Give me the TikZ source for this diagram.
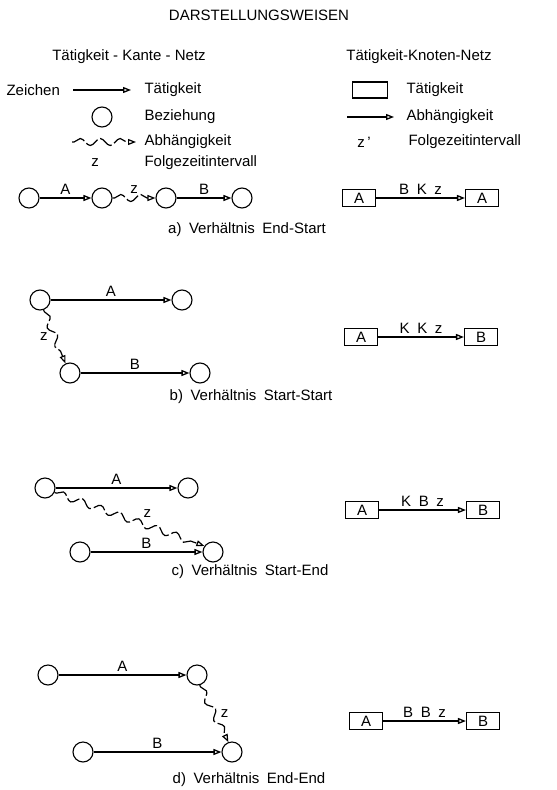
\documentclass[tikz,border=0pt]{standalone}
\usepackage{fontspec}
\setmainfont{Liberation Sans}
\usetikzlibrary{arrows.meta,positioning,decorations.pathmorphing}

\tikzset{
  ev/.style={draw,circle,line width=1.1pt,minimum size=20pt,inner sep=0pt},
  act/.style={draw,line width=1.1pt,minimum width=33pt,minimum height=17pt,inner sep=0pt},
  arr/.style={line width=1.3pt,-{Triangle[open,length=8pt,width=6pt]}},
  dep/.style={line width=1.2pt,-{Triangle[open,length=8pt,width=6pt]},dash pattern=on 14pt off 3pt,
    decorate,decoration={snake,amplitude=3.5pt,segment length=20pt,pre length=2pt,post length=7pt}}
}

\begin{document}
\begin{tikzpicture}[x=1pt,y=-1pt,font=\fontsize{15}{17}\selectfont]
  \useasboundingbox (0,0) rectangle (557,790);

  % title and column heads
  \node (title) at (259,15) {DARSTELLUNGSWEISEN};
  \node (hleft) at (129,57) {Tätigkeit - Kante - Netz};
  \node (hright) at (419,57) {Tätigkeit-Knoten-Netz};

  % legend, left column
  \node[anchor=west] (lzei) at (3,90) {Zeichen};
  \coordinate (lt1) at (73,90);
  \coordinate (lt2) at (131,90);
  \draw[arr] (lt1) -- (lt2);
  \node[anchor=west] (ltae) at (141,90) {Tätigkeit};
  \node[ev] (lev) at (102,117) {};
  \node[anchor=west] (lbez) at (141,117) {Beziehung};
  \coordinate (ld1) at (72,142);
  \coordinate (ld2) at (136,142);
  \draw[dep] (ld1) -- (ld2);
  \node[anchor=west] (labh) at (141,142) {Abhängigkeit};
  \node (lz) at (95,163) {z};
  \node[anchor=west] (lfol) at (141,163) {Folgezeitintervall};

  % legend, right column
  \node[act,minimum width=35pt,minimum height=16pt] (ract) at (370,90) {};
  \node[anchor=west] (rtae) at (403,90) {Tätigkeit};
  \coordinate (rd1) at (347,117);
  \coordinate (rd2) at (394,117);
  \draw[arr] (rd1) -- (rd2);
  \node[anchor=west] (rabh) at (403,117) {Abhängigkeit};
  \node (rz) at (364,142) {z\,'};
  \node[anchor=west] (rfol) at (405,142) {Folgezeitintervall};

  % a) End-Start
  \node[ev] (a1) at (29,198) {};
  \node[ev] (a2) at (102,198) {};
  \node[ev] (a3) at (166,198) {};
  \node[ev] (a4) at (242,198) {};
  \draw[arr] (a1) -- node[above] {A} (a2);
  \draw[dep] (a2) -- node[above=1pt] {z} (a3);
  \draw[arr] (a3) -- node[above] {B} (a4);
  \node[act] (ka1) at (359,198) {A};
  \node[act] (ka2) at (482,198) {A};
  \draw[arr] (ka1) -- node[above] {B\enskip K\enskip z} (ka2);
  \node (capa) at (247,230) {a)\enskip Verhältnis\enskip End-Start};

  % b) Start-Start
  \node[ev] (b1) at (40,300) {};
  \node[ev] (b2) at (182,300) {};
  \node[ev] (b3) at (70,373) {};
  \node[ev] (b4) at (200,373) {};
  \draw[arr] (b1) -- node[above] {A} (b2);
  \draw[arr] (b3) -- node[above] {B} (b4);
  \draw[dep] (b1.-70) -- node[left=3pt] {z} (b3.115);
  \node[act] (kb1) at (361,337) {A};
  \node[act] (kb2) at (481,337) {B};
  \draw[arr] (kb1) -- node[above] {K\enskip K\enskip z} (kb2);
  \node (capb) at (251,397) {b)\enskip Verhältnis\enskip Start-Start};

  % c) Start-End
  \node[ev] (c1) at (45,488) {};
  \node[ev] (c2) at (188,488) {};
  \node[ev] (c3) at (80,552) {};
  \node[ev] (c4) at (213,552) {};
  \draw[arr] (c1) -- node[above] {A} (c2);
  \draw[arr] (c3) -- node[above] {B} (c4);
  \draw[dep] (c1.-25) -- node[pos=0.62,above=4pt] {z} (c4.145);
  \node[act] (kc1) at (362,510) {A};
  \node[act] (kc2) at (483,510) {B};
  \draw[arr] (kc1) -- node[above] {K\enskip B\enskip z} (kc2);
  \node (capc) at (250,572) {c)\enskip Verhältnis\enskip Start-End};

  % d) End-End
  \node[ev] (d1) at (48,675) {};
  \node[ev] (d2) at (197,675) {};
  \node[ev] (d3) at (83,752) {};
  \node[ev] (d4) at (232,752) {};
  \draw[arr] (d1) -- node[above] {A} (d2);
  \draw[arr] (d3) -- node[above] {B} (d4);
  \draw[dep] (d2.-75) -- node[right=3pt] {z} (d4.110);
  \node[act] (kd1) at (366,721) {A};
  \node[act] (kd2) at (483,721) {B};
  \draw[arr] (kd1) -- node[above] {B\enskip B\enskip z} (kd2);
  \node (capd) at (249,780) {d)\enskip Verhältnis\enskip End-End};
\end{tikzpicture}
\end{document}
